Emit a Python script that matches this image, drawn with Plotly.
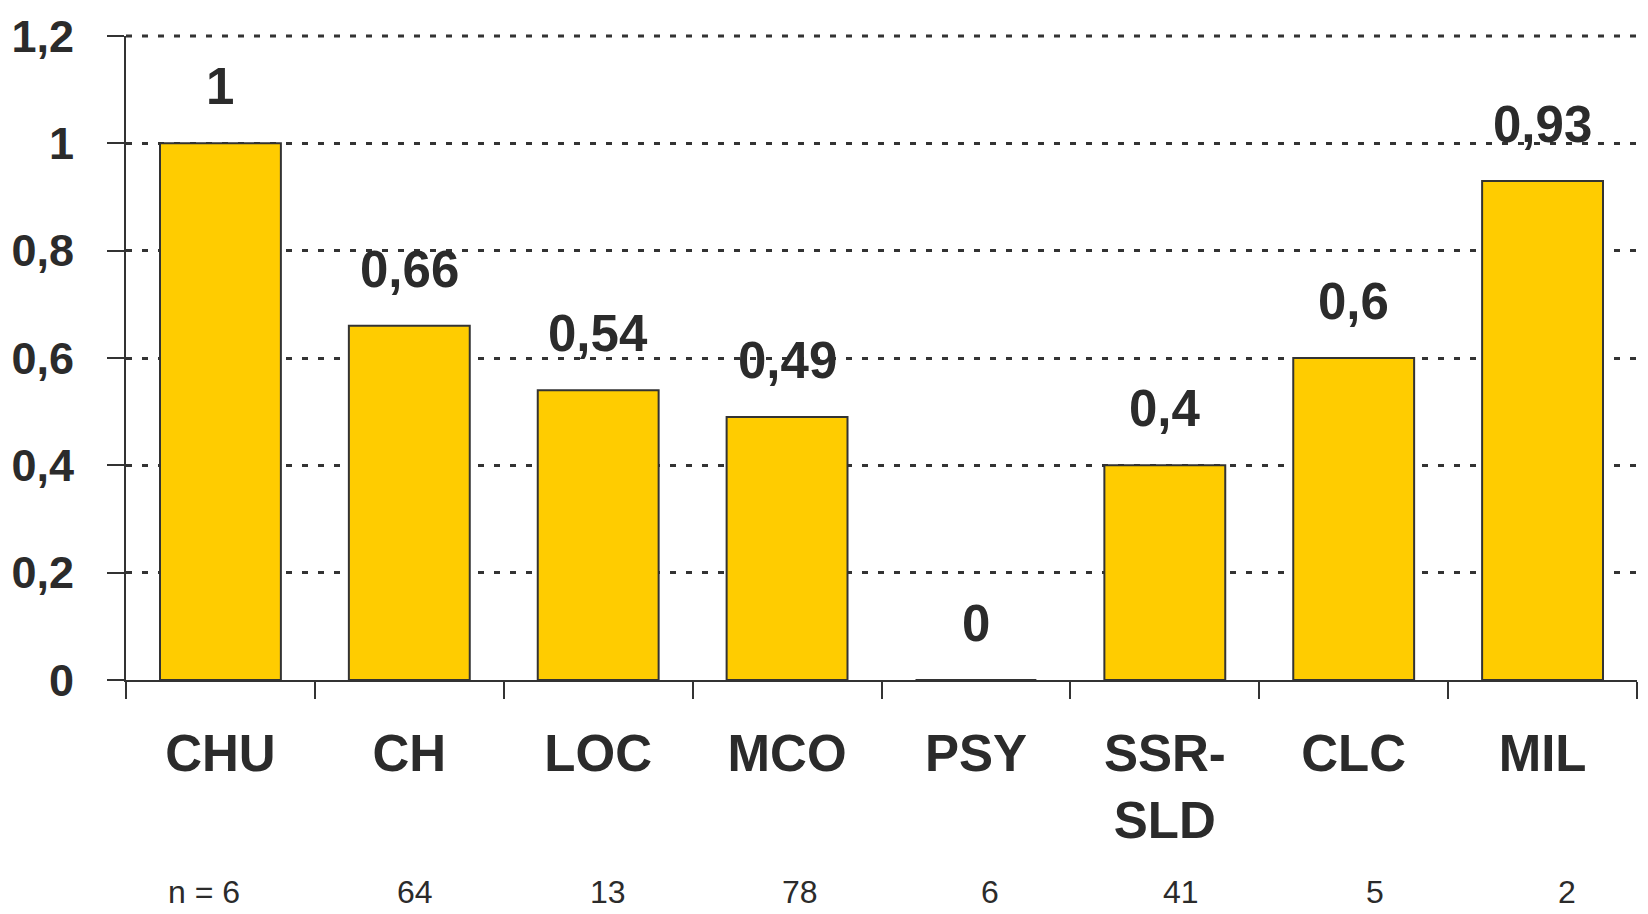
import plotly.graph_objects as go

# Establishment types and their values
categories = ["CHU", "CH", "LOC", "MCO", "PSY", "SSR-<br>SLD", "CLC", "MIL"]
values = [1.0, 0.66, 0.54, 0.49, 0.0, 0.40, 0.60, 0.93]
sample_sizes = ["n = 6", "64", "13", "78", "6", "41", "5", "2"]
y_ticks = [0, 0.2, 0.4, 0.6, 0.8, 1.0, 1.2]

# horizontal nudges for the sample-size row (pixels)
n_label_xshift = [-16, 6, 10, 13, 14, 16, 21, 24]

INK = "#2b2b2b"
LINE = "#333333"
FONT = "Liberation Sans, Arial, sans-serif"
GRID_DASH = "6px,10px"

fig = go.Figure()
fig.add_trace(go.Bar(
    x=categories,
    y=values,
    marker=dict(color="#FFCC00", line=dict(color=LINE, width=2)),
    width=0.64,
    hoverinfo="skip",
))


def fmt(v):
    s = f"{v:.2f}".rstrip("0").rstrip(".")
    return s.replace(".", ",")


annotations = []
for cat, v in zip(categories, values):
    annotations.append(dict(
        x=cat, y=v, xref="x", yref="y", text=fmt(v), showarrow=False,
        yanchor="bottom", yshift=26,
        font=dict(family=FONT, size=51, color=INK, weight="bold"),
    ))
for cat, n, dx in zip(categories, sample_sizes, n_label_xshift):
    annotations.append(dict(
        x=cat, y=0, xref="x", yref="paper", text=n, showarrow=False,
        yanchor="middle", yshift=-212, xshift=dx,
        font=dict(family=FONT, size=32, color=INK),
    ))

# the top gridline (1,2) lies on the upper edge of the plot area, where the
# axis grid is not drawn, so add it as an unclipped paper-referenced line
fig.add_shape(
    type="line", xref="paper", yref="paper", x0=0, x1=1, y0=1, y1=1,
    line=dict(color=LINE, width=3, dash=GRID_DASH), layer="below",
)

fig.update_layout(
    width=1648, height=914,
    margin=dict(l=124, r=11, t=32, b=234),
    paper_bgcolor="white", plot_bgcolor="white",
    separators=", ",
    showlegend=False,
    annotations=annotations,
    xaxis=dict(
        type="category",
        tickson="boundaries",
        ticks="outside", ticklen=17, tickwidth=2, tickcolor=LINE,
        showline=True, linecolor=LINE, linewidth=2,
        showgrid=False,
        tickfont=dict(family=FONT, size=51, color=INK, weight="bold"),
        ticklabelstandoff=28,
    ),
    yaxis=dict(
        range=[y_ticks[0], y_ticks[-1]],
        tickvals=y_ticks,
        ticks="outside", ticklen=17, tickwidth=2, tickcolor=LINE,
        showline=True, linecolor=LINE, linewidth=2,
        showgrid=True, gridcolor=LINE, gridwidth=3, griddash=GRID_DASH,
        zeroline=False,
        tickfont=dict(family=FONT, size=45, color=INK, weight="bold"),
        ticklabelstandoff=24,
    ),
)

fig.write_html("out.html")
